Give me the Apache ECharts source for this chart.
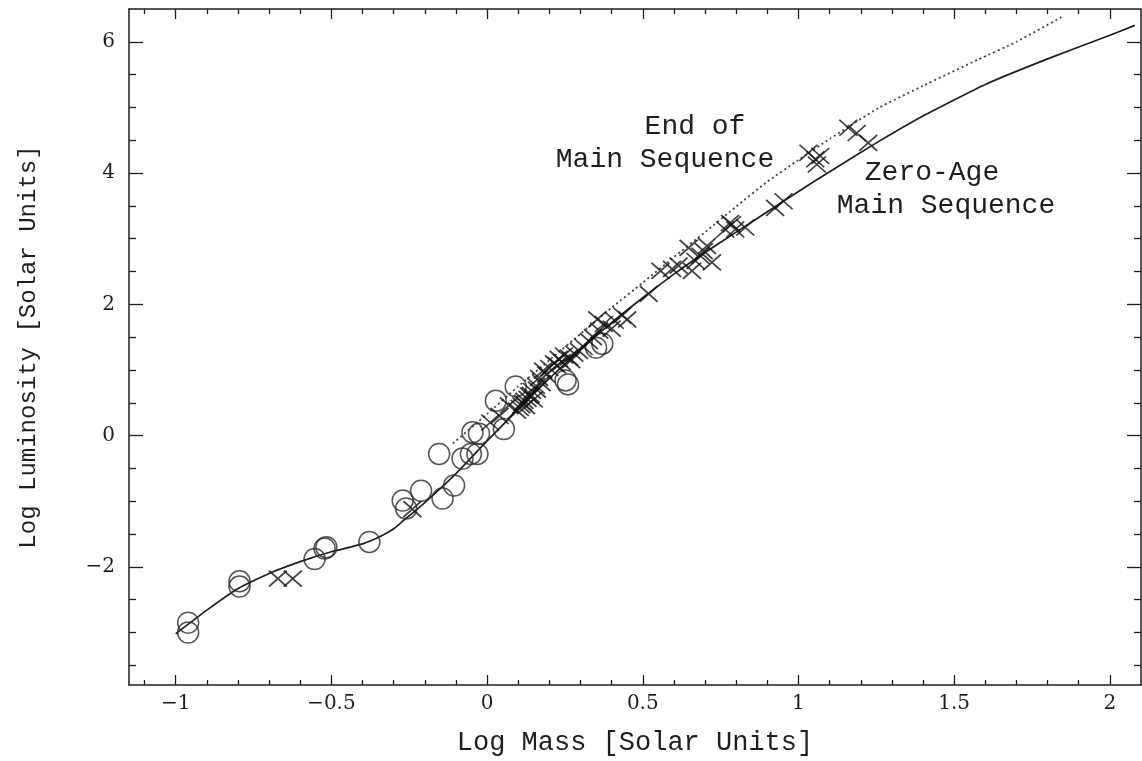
<!DOCTYPE html>
<html>
<head>
<meta charset="utf-8">
<title>Mass - Luminosity</title>
<script src="https://cdn.jsdelivr.net/npm/echarts@6/dist/echarts.min.js"></script>
<style>
  html, body { margin: 0; padding: 0; background: #fff; }
  #main_chart { width: 1142px; height: 761px; }
</style>
</head>
<body>
<div id="main_chart"></div>
<script>
// 눈금 값
var xMajorTicks = [-1, -0.5, 0, 0.5, 1, 1.5, 2];
var xMinorTicks = [-1.1, -0.9, -0.8, -0.7, -0.6, -0.4, -0.3, -0.2, -0.1, 0.1, 0.2, 0.3, 0.4,
                   0.6, 0.7, 0.8, 0.9, 1.1, 1.2, 1.3, 1.4, 1.6, 1.7, 1.8, 1.9];
var yMajorTicks = [-2, 0, 2, 4, 6];
var yMinorTicks = [-3.5, -3, -2.5, -1.5, -1, -0.5, 0.5, 1, 1.5, 2.5, 3, 3.5, 4.5, 5, 5.5];

// Zero-Age Main Sequence (실선)
var zamsLine = [
  [-1.0, -3.02], [-0.9, -2.66], [-0.8, -2.33], [-0.7, -2.1], [-0.6, -1.92], [-0.5, -1.77],
  [-0.4, -1.65], [-0.34, -1.53], [-0.3, -1.42], [-0.27, -1.3], [-0.2, -1.02], [-0.1, -0.58],
  [0, -0.08], [0.1, 0.40], [0.2, 0.87], [0.3, 1.31], [0.4, 1.72], [0.5, 2.1], [0.6, 2.46],
  [0.7, 2.79], [0.8, 3.1], [0.9, 3.41], [1.0, 3.72], [1.1, 4.02], [1.25, 4.46], [1.4, 4.87],
  [1.6, 5.35], [1.8, 5.74], [2.0, 6.1], [2.08, 6.25]
];

// End of Main Sequence (점선)
var emsLine = [
  [-0.11, -0.12], [0, 0.33], [0.1, 0.75], [0.2, 1.15], [0.3, 1.55], [0.4, 1.95], [0.5, 2.33],
  [0.6, 2.72], [0.7, 3.1], [0.8, 3.49], [0.9, 3.87], [1.0, 4.2], [1.1, 4.52], [1.256, 4.99],
  [1.4, 5.33], [1.577, 5.73], [1.7, 6.0], [1.85, 6.39]
];

// 원 마커
var circleStars = [
  [-0.96, -2.85], [-0.96, -3.0], [-0.795, -2.22], [-0.795, -2.3], [-0.554, -1.88],
  [-0.522, -1.72], [-0.516, -1.70], [-0.378, -1.62], [-0.271, -0.99], [-0.26, -1.11],
  [-0.212, -0.84], [-0.143, -0.96], [-0.106, -0.76], [-0.154, -0.28], [-0.079, -0.35],
  [-0.052, -0.28], [-0.031, -0.28], [-0.047, 0.05], [-0.026, 0.03], [0.054, 0.1],
  [0.028, 0.53], [0.092, 0.75], [0.252, 0.84], [0.26, 0.78], [0.35, 1.34], [0.37, 1.40]
];

// X 마커
var crossStars = [
  [-0.672, -2.18], [-0.624, -2.18], [-0.24, -1.12],
  [0.01, 0.2], [0.04, 0.3], [0.07, 0.46], [0.096, 0.38], [0.105, 0.42], [0.11, 0.46],
  [0.115, 0.5], [0.12, 0.53], [0.125, 0.45], [0.13, 0.56], [0.135, 0.61], [0.14, 0.62],
  [0.144, 0.68], [0.15, 0.55], [0.157, 0.76], [0.16, 0.7], [0.167, 0.88], [0.175, 0.8],
  [0.18, 0.99], [0.19, 0.93], [0.2, 1.03], [0.215, 1.1], [0.225, 1.07], [0.23, 1.17],
  [0.24, 1.12], [0.247, 1.22], [0.263, 1.19], [0.27, 1.15], [0.28, 1.25], [0.295, 1.29],
  [0.31, 1.35], [0.327, 1.44], [0.34, 1.5], [0.354, 1.77], [0.36, 1.6], [0.375, 1.7],
  [0.4, 1.63], [0.41, 1.75], [0.434, 1.83], [0.45, 1.77], [0.519, 2.16], [0.557, 2.51],
  [0.594, 2.54], [0.615, 2.59], [0.647, 2.86], [0.658, 2.51], [0.669, 2.66], [0.685, 2.74],
  [0.696, 2.81], [0.706, 2.89], [0.722, 2.64], [0.765, 3.14], [0.78, 3.24], [0.786, 3.22],
  [0.797, 3.14], [0.829, 3.17], [0.925, 3.47], [0.952, 3.57], [1.032, 4.31], [1.054, 4.21],
  [1.07, 4.26], [1.059, 4.13], [1.16, 4.69], [1.187, 4.61], [1.224, 4.46]
];

var X_MIN = -1.15, X_MAX = 2.1;
var Y_MIN = -3.8, Y_MAX = 6.5;
var INK = '#1e1e1e';
var monoFont = '"Liberation Mono", "DejaVu Sans Mono", monospace';
var serifFont = '"DejaVu Serif", "Liberation Serif", serif';

function minusLabel(v) { // 마이너스 기호를 긴 대시로
  return String(v).replace('-', '\u2212');
}

// 축 하나 만들기 (눈금만 or 라벨까지)
function makeAxis(kind, pos, ticks, len, withLine, withLabel, name) {
  var ax = {
    type: 'value',
    position: pos,
    min: kind == 'x' ? X_MIN : Y_MIN,
    max: kind == 'x' ? X_MAX : Y_MAX,
    splitLine: { show: false },
    axisLine: { show: withLine, onZero: false, lineStyle: { color: INK, width: 1.5 } },
    axisTick: { show: true, inside: true, length: len, customValues: ticks,
                lineStyle: { color: INK, width: 1.3 } },
    axisLabel: { show: false }
  };
  if (withLabel) {
    ax.axisLabel = {
      show: true, customValues: ticks, formatter: minusLabel,
      color: INK, fontFamily: serifFont, fontSize: 20,
      margin: kind == 'x' ? 9 : 14
    };
  }
  if (name) {
    ax.name = name;
    ax.nameLocation = 'middle';
    ax.nameTextStyle = { color: INK, fontFamily: monoFont, fontSize: kind == 'x' ? 27 : 24 };
    ax.nameGap = kind == 'x' ? 44 : 88;
  }
  return ax;
}

var myChart = echarts.init(document.getElementById('main_chart'));

var option = {
  backgroundColor: '#fff',
  animation: false,
  grid: { left: 129, right: 1, top: 9, bottom: 76, containLabel: false },
  xAxis: [
    makeAxis('x', 'bottom', xMajorTicks, 10, true, true, 'Log Mass [Solar Units]'),
    makeAxis('x', 'bottom', xMinorTicks, 5, false, false),
    makeAxis('x', 'top', xMajorTicks, 10, true, false),
    makeAxis('x', 'top', xMinorTicks, 5, false, false)
  ],
  yAxis: [
    makeAxis('y', 'left', yMajorTicks, 14, true, true, 'Log Luminosity [Solar Units]'),
    makeAxis('y', 'left', yMinorTicks, 7, false, false),
    makeAxis('y', 'right', yMajorTicks, 14, true, false),
    makeAxis('y', 'right', yMinorTicks, 7, false, false)
  ],
  series: [
    {
      name: 'Zero-Age Main Sequence',
      type: 'line',
      data: zamsLine,
      showSymbol: false,
      smooth: 0.15,
      lineStyle: { color: INK, width: 1.7 },
      z: 3
    },
    {
      name: 'End of Main Sequence',
      type: 'line',
      data: emsLine,
      showSymbol: false,
      smooth: 0.15,
      lineStyle: { color: '#444', width: 1.8, type: [2, 3] },
      z: 3
    },
    {
      name: 'circles',
      type: 'scatter',
      data: circleStars,
      symbol: 'circle',
      symbolSize: 21,
      itemStyle: { color: 'rgba(0,0,0,0)', borderColor: '#2a2a2a', borderWidth: 1.5 },
      z: 4
    },
    {
      name: 'crosses',
      type: 'scatter',
      data: crossStars,
      symbol: 'path://M0,0L10,10M10,0L0,10',
      symbolSize: [18, 16],
      itemStyle: { color: 'rgba(0,0,0,0)', borderColor: '#111', borderWidth: 1.7 },
      z: 5
    }
  ],
  graphic: [ // 곡선 설명 글자
    { type: 'text', x: 695, y: 127, style: { text: 'End of', fill: INK, font: '28px ' + monoFont, align: 'center', verticalAlign: 'middle' } },
    { type: 'text', x: 665, y: 160, style: { text: 'Main Sequence', fill: INK, font: '28px ' + monoFont, align: 'center', verticalAlign: 'middle' } },
    { type: 'text', x: 932, y: 173, style: { text: 'Zero-Age', fill: INK, font: '28px ' + monoFont, align: 'center', verticalAlign: 'middle' } },
    { type: 'text', x: 946, y: 206, style: { text: 'Main Sequence', fill: INK, font: '28px ' + monoFont, align: 'center', verticalAlign: 'middle' } }
  ]
};

myChart.setOption(option);
</script>
</body>
</html>
